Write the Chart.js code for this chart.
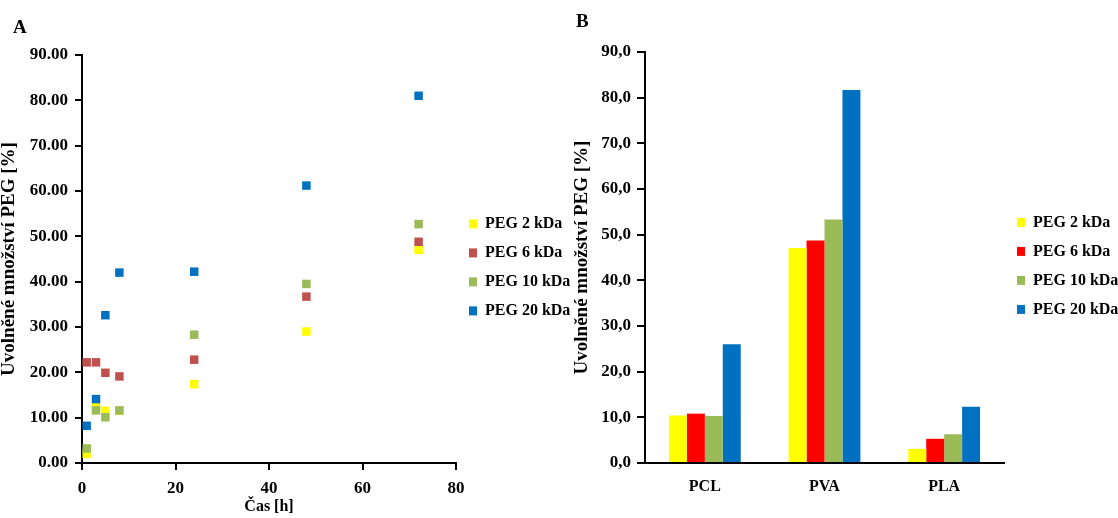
<!DOCTYPE html>
<html>
<head>
<meta charset="utf-8">
<script src="https://cdn.jsdelivr.net/npm/chart.js@4"></script>
<style>
body{margin:0;background:#fff;}
#wrap{position:relative;width:1118px;height:518px;overflow:hidden;font-family:"Liberation Serif",serif;font-weight:bold;}
canvas{position:absolute;top:0;}
.pismeno{position:absolute;font-size:19px;line-height:19px;}
</style>
</head>
<body>
<div id="wrap">
  <canvas id="grafA" width="575" height="518" style="left:0"></canvas>
  <canvas id="grafB" width="558" height="518" style="left:560px"></canvas>
  <div class="pismeno" style="left:13px;top:17px">A</div>
  <div class="pismeno" style="left:576px;top:11px">B</div>
</div>
<script>
// graf A - uvolnene mnozstvi PEG v case
let casy = [1, 3, 5, 8, 24, 48, 72];
let peg2 = [2.0, 12.4, 11.5, 11.5, 17.4, 29.0, 47.0];
let peg6 = [22.2, 22.2, 19.9, 19.1, 22.8, 36.7, 48.8];
let peg10 = [3.2, 11.6, 10.1, 11.6, 28.3, 39.5, 52.7];
let peg20 = [8.2, 14.1, 32.6, 42.0, 42.2, 61.2, 81.0];
let xTicks = [0, 20, 40, 60, 80];

// graf B - polymery
let polymery = ['PCL', 'PVA', 'PLA'];
let bar2 = [10.4, 47.1, 3.1];
let bar6 = [10.8, 48.7, 5.3];
let bar10 = [10.3, 53.3, 6.3];
let bar20 = [26.0, 81.7, 12.3];

let popisky = ['PEG 2 kDa', 'PEG 6 kDa', 'PEG 10 kDa', 'PEG 20 kDa'];

Chart.defaults.font.family = "'Liberation Serif', 'Times New Roman', serif";
Chart.defaults.font.weight = 'bold';
Chart.defaults.color = '#000';

function body(hodnoty){
    return casy.map((x, i) => ({x: x, y: hodnoty[i]}));
}

let legendaLabels = {
    boxWidth: 8,
    boxHeight: 9,
    padding: 13,
    font: {size: 16, weight: 'bold'},
    sort: (a, b) => a.datasetIndex - b.datasetIndex
};
let legendaTitle = {display: true, text: '', padding: 0, font: {size: 14}};

let grafA = new Chart(document.getElementById('grafA'), {
    type: 'scatter',
    data: {
        datasets: [
            {label: popisky[0], data: body(peg2), backgroundColor: '#FFFF00', borderColor: '#FFFF00', order: 4},
            {label: popisky[1], data: body(peg6), backgroundColor: '#C0504D', borderColor: '#C0504D', order: 3},
            {label: popisky[2], data: body(peg10), backgroundColor: '#9BBB59', borderColor: '#9BBB59', order: 2},
            {label: popisky[3], data: body(peg20), backgroundColor: '#0070C0', borderColor: '#0070C0', order: 1}
        ]
    },
    options: {
        responsive: false,
        animation: false,
        layout: {padding: {top: 55, right: 0, bottom: 0, left: 0}},
        elements: {point: {pointStyle: 'rect', radius: 6, borderWidth: 0}},
        plugins: {
            legend: {position: 'right', fullSize: false, maxWidth: 119, labels: legendaLabels, title: legendaTitle},
            tooltip: {enabled: false}
        },
        scales: {
            x: {
                type: 'linear',
                min: 0, max: 80,
                afterBuildTicks: s => { s.ticks = xTicks.map(v => ({value: v})); },
                ticks: {font: {size: 17, weight: 'bold'}, padding: 8, maxRotation: 0},
                grid: {drawOnChartArea: false, drawTicks: true, tickLength: 7, color: '#000', lineWidth: 2},
                border: {color: '#000', width: 2},
                title: {display: true, text: 'Čas [h]', font: {size: 16, weight: 'bold'}, padding: {top: 0, bottom: 2}},
                afterFit: s => { s.height = 55; }
            },
            y: {
                min: 0, max: 90,
                ticks: {stepSize: 10, font: {size: 17, weight: 'bold'}, padding: 7, callback: v => v.toFixed(2)},
                grid: {drawOnChartArea: false, drawTicks: true, tickLength: 7, color: '#000', lineWidth: 2},
                border: {color: '#000', width: 2},
                title: {display: true, text: 'Uvolněné množství PEG [%]', font: {size: 19, weight: 'bold'}, padding: {top: -2, bottom: 0}},
                afterFit: s => { s.width = 82; }
            }
        }
    }
});

let grafB = new Chart(document.getElementById('grafB'), {
    type: 'bar',
    data: {
        labels: polymery,
        datasets: [
            {label: popisky[0], data: bar2, backgroundColor: '#FFFF00'},
            {label: popisky[1], data: bar6, backgroundColor: '#FF0000'},
            {label: popisky[2], data: bar10, backgroundColor: '#9BBB59'},
            {label: popisky[3], data: bar20, backgroundColor: '#0070C0'}
        ]
    },
    options: {
        responsive: false,
        animation: false,
        layout: {padding: {top: 52, right: 0, bottom: 0, left: 0}},
        datasets: {bar: {barPercentage: 1, categoryPercentage: 0.6, borderWidth: 0}},
        plugins: {
            legend: {position: 'right', fullSize: false, maxWidth: 114, labels: legendaLabels, title: legendaTitle},
            tooltip: {enabled: false}
        },
        scales: {
            x: {
                ticks: {font: {size: 16, weight: 'bold'}, padding: 14},
                grid: {drawOnChartArea: false, drawTicks: false},
                border: {color: '#000', width: 2},
                afterFit: s => { s.height = 55; }
            },
            y: {
                min: 0, max: 90,
                ticks: {stepSize: 10, font: {size: 17, weight: 'bold'}, padding: 6, callback: v => v.toFixed(1).replace('.', ',')},
                grid: {drawOnChartArea: false, drawTicks: true, tickLength: 8, color: '#000', lineWidth: 2},
                border: {color: '#000', width: 2},
                title: {display: true, text: 'Uvolněné množství PEG [%]', font: {size: 19, weight: 'bold'}, padding: {top: 11, bottom: 0}},
                afterFit: s => { s.width = 85; }
            }
        }
    }
});
</script>
</body>
</html>
